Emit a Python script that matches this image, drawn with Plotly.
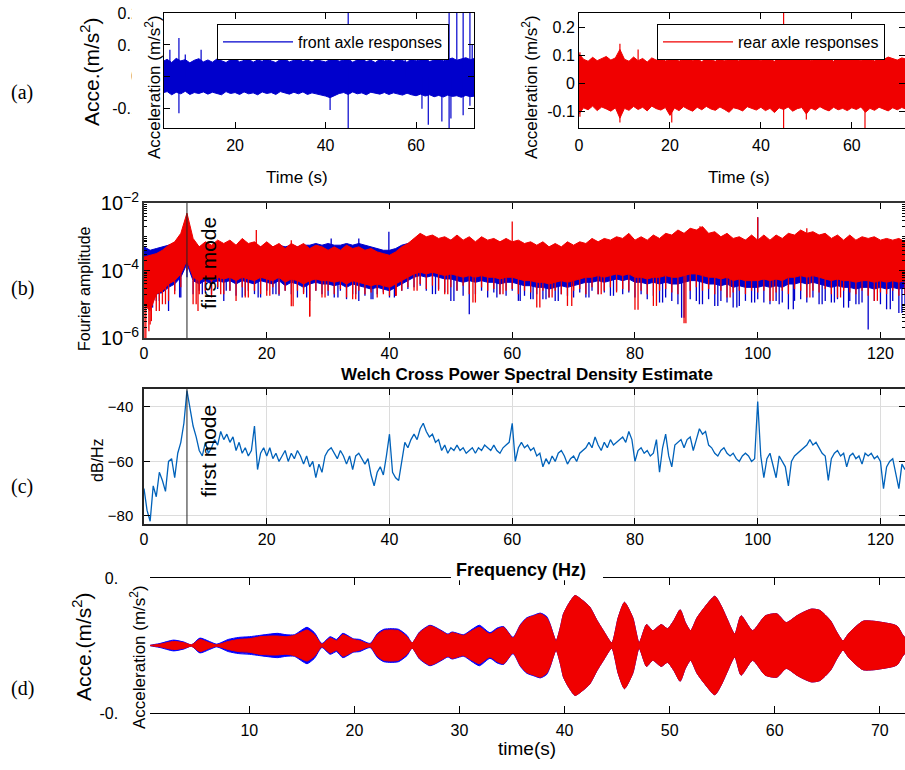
import numpy as np
import plotly.graph_objects as go

W, H = 905, 770


def px(xp):
    """Horizontal pixel position -> paper fraction."""
    return xp / W


def py(yp):
    """Vertical pixel position (from top) -> paper fraction."""
    return 1 - yp / H


BLUE = "#0000CC"
RED = "#F00000"
PSD_BLUE = "#0062BA"

# ---------------- (a) axle acceleration records ----------------
# Band edges of the dense record (1 s steps) and isolated peaks, m/s^2
front_t = list(range(4, 74))
front_upper = [
    0.048, 0.055, 0.045, 0.058, 0.050, 0.054, 0.044, 0.052, 0.057, 0.047,
    0.053, 0.046, 0.056, 0.050, 0.045, 0.054, 0.058, 0.047, 0.052, 0.056,
    0.046, 0.053, 0.049, 0.057, 0.050, 0.045, 0.054, 0.056, 0.047, 0.051,
    0.057, 0.048, 0.053, 0.046, 0.055, 0.050, 0.047, 0.054, 0.058, 0.049,
    0.052, 0.056, 0.046, 0.053, 0.057, 0.048, 0.052, 0.045, 0.055, 0.050,
    0.054, 0.047, 0.056, 0.051, 0.046, 0.057, 0.050, 0.054, 0.058, 0.048,
    0.053, 0.057, 0.050, 0.055, 0.059, 0.052, 0.056, 0.060, 0.054, 0.058,
]
front_lower = [
    -0.050, -0.046, -0.056, -0.048, -0.053, -0.045, -0.055, -0.049, -0.052, -0.047,
    -0.054, -0.048, -0.051, -0.056, -0.046, -0.052, -0.049, -0.055, -0.047, -0.053,
    -0.050, -0.056, -0.047, -0.052, -0.049, -0.055, -0.046, -0.051, -0.054, -0.048,
    -0.053, -0.047, -0.055, -0.050, -0.052, -0.056, -0.060, -0.065, -0.058, -0.052,
    -0.049, -0.055, -0.047, -0.053, -0.050, -0.056, -0.048, -0.052, -0.054, -0.049,
    -0.055, -0.050, -0.053, -0.057, -0.051, -0.056, -0.059, -0.054, -0.060, -0.056,
    -0.062, -0.058, -0.063, -0.057, -0.061, -0.059, -0.064, -0.058, -0.062, -0.060,
]
front_peak_t = [5.6, 7.6, 7.6, 9.0, 12.5, 21.9, 24.8, 41.0, 45.0, 45.0, 57.6,
                61.3, 62.7, 65.7, 67.3, 67.3, 67.7, 69.0, 70.4, 70.4, 71.9, 71.9, 72.4]
front_peak_v = [0.085, 0.122, -0.114, 0.070, 0.085, 0.080, 0.085, -0.104, 0.25, -0.20, 0.085,
                -0.100, -0.150, -0.140, 0.25, -0.20, -0.130, 0.20, 0.20, -0.120, 0.20, -0.090, 0.100]

rear_t = list(range(0, 73))
rear_upper = [
    0.105, 0.085, 0.078, 0.092, 0.080, 0.088, 0.095, 0.082, 0.090, 0.120,
    0.085, 0.078, 0.093, 0.080, 0.088, 0.075, 0.090, 0.082, 0.087, 0.079,
    0.084, 0.092, 0.078, 0.086, 0.098, 0.080, 0.088, 0.076, 0.090, 0.083,
    0.078, 0.088, 0.080, 0.085, 0.092, 0.079, 0.087, 0.093, 0.082, 0.088,
    0.080, 0.090, 0.084, 0.078, 0.092, 0.098, 0.085, 0.090, 0.082, 0.088,
    0.094, 0.080, 0.086, 0.092, 0.082, 0.089, 0.078, 0.091, 0.085, 0.095,
    0.083, 0.088, 0.080, 0.092, 0.086, 0.079, 0.090, 0.084, 0.093, 0.087,
    0.082, 0.090, 0.085,
]
rear_lower = [
    -0.110, -0.088, -0.095, -0.082, -0.098, -0.085, -0.092, -0.100, -0.088, -0.125,
    -0.090, -0.097, -0.083, -0.094, -0.086, -0.099, -0.082, -0.091, -0.096, -0.087,
    -0.115, -0.089, -0.098, -0.084, -0.093, -0.100, -0.086, -0.095, -0.083, -0.092,
    -0.097, -0.085, -0.094, -0.104, -0.088, -0.092, -0.099, -0.084, -0.091, -0.096,
    -0.086, -0.098, -0.090, -0.105, -0.088, -0.094, -0.085, -0.100, -0.091, -0.087,
    -0.110, -0.089, -0.096, -0.084, -0.093, -0.099, -0.086, -0.095, -0.090, -0.098,
    -0.088, -0.094, -0.085, -0.104, -0.090, -0.097, -0.086, -0.093, -0.099, -0.088,
    -0.095, -0.087, -0.093,
]
rear_peak_t = [0.2, 0.2, 9.0, 9.0, 13.0, 20.4, 23.9, 45.0, 45.0, 50.0, 62.9]
rear_peak_v = [0.110, -0.120, 0.140, -0.140, 0.120, -0.140, 0.120, 0.30, -0.20, -0.130, -0.20]

# ---------------- (b) Fourier amplitude (log10), 1 Hz bins ----------------
# top: upper edge of the dense band, core: lower edge of its solid part,
# dip: deepest excursion inside each bin
fft_f = list(range(0, 125))
rear_fft_top = [
    -3.60, -3.55, -3.50, -3.40, -3.25, -3.15, -2.90, -2.30, -3.05, -3.30,
    -3.15, -3.25, -3.10, -3.20, -3.10, -3.25, -3.05, -3.20, -3.15, -3.30,
    -3.15, -3.30, -3.20, -3.35, -3.20, -3.30, -3.20, -3.35, -3.25, -3.30,
    -3.40, -3.30, -3.40, -3.25, -3.35, -3.30, -3.40, -3.35, -3.45, -3.50,
    -3.55, -3.45, -3.30, -3.20, -3.05, -2.90, -3.00, -2.95, -3.05, -3.00,
    -3.10, -2.95, -3.10, -3.00, -3.15, -3.00, -3.10, -3.05, -3.15, -3.05,
    -3.15, -3.10, -3.20, -3.15, -3.25, -3.15, -3.30, -3.20, -3.30, -3.15,
    -3.25, -3.15, -3.20, -3.05, -3.15, -3.05, -3.10, -3.00, -3.05, -2.90,
    -3.10, -3.00, -3.10, -2.95, -3.05, -2.90, -2.95, -2.80, -2.90, -2.75,
    -2.80, -2.70, -2.90, -2.85, -3.00, -2.90, -3.05, -3.00, -3.10, -2.95,
    -3.10, -2.95, -3.10, -2.95, -3.05, -2.90, -2.95, -2.80, -2.90, -2.85,
    -2.95, -2.90, -3.05, -2.95, -3.10, -2.95, -3.10, -3.00, -3.05, -3.00,
    -3.10, -3.05, -3.10, -3.05, -3.15,
]
rear_fft_core = [
    -5.00, -5.20, -4.70, -4.60, -4.40, -4.30, -4.10, -3.70, -4.20, -4.30,
    -4.20, -4.30, -4.20, -4.25, -4.20, -4.30, -4.20, -4.25, -4.30, -4.20,
    -4.25, -4.30, -4.20, -4.35, -4.25, -4.30, -4.40, -4.30, -4.25, -4.30,
    -4.30, -4.35, -4.30, -4.40, -4.30, -4.35, -4.40, -4.45, -4.40, -4.45,
    -4.50, -4.40, -4.30, -4.20, -4.10, -4.05, -4.10, -4.05, -4.10, -4.15,
    -4.10, -4.15, -4.20, -4.15, -4.20, -4.15, -4.20, -4.20, -4.25, -4.20,
    -4.20, -4.25, -4.30, -4.30, -4.35, -4.35, -4.40, -4.35, -4.30, -4.35,
    -4.30, -4.25, -4.20, -4.20, -4.15, -4.20, -4.15, -4.10, -4.15, -4.10,
    -4.20, -4.20, -4.25, -4.20, -4.20, -4.15, -4.20, -4.20, -4.15, -4.10,
    -4.10, -4.15, -4.20, -4.20, -4.25, -4.20, -4.30, -4.25, -4.30, -4.30,
    -4.30, -4.25, -4.30, -4.25, -4.30, -4.20, -4.20, -4.15, -4.20, -4.15,
    -4.20, -4.25, -4.30, -4.25, -4.30, -4.30, -4.35, -4.30, -4.30, -4.35,
    -4.30, -4.35, -4.30, -4.35, -4.30,
]
rear_fft_dip = [
    -6.00, -5.60, -5.20, -5.00, -4.90, -4.70, -4.50, -4.00, -5.00, -4.70,
    -4.60, -4.80, -4.50, -4.70, -4.60, -4.90, -4.50, -4.80, -4.60, -4.70,
    -4.75, -4.50, -4.70, -4.60, -5.06, -4.60, -4.70, -5.36, -4.60, -4.80,
    -4.60, -4.70, -4.55, -4.80, -4.85, -4.60, -4.70, -4.65, -4.80, -4.70,
    -4.75, -4.75, -4.60, -4.50, -4.60, -4.40, -4.55, -4.45, -4.60, -4.70,
    -4.50, -4.60, -4.45, -4.70, -4.95, -4.50, -4.60, -4.55, -4.70, -4.60,
    -4.55, -4.70, -4.60, -4.65, -5.10, -4.60, -4.80, -4.60, -4.70, -5.05,
    -4.60, -4.55, -4.70, -4.50, -4.70, -4.60, -4.50, -4.65, -4.55, -4.60,
    -5.16, -4.60, -4.70, -5.05, -4.60, -4.55, -4.65, -4.70, -5.56, -4.60,
    -4.50, -4.60, -4.55, -4.70, -4.60, -4.80, -4.65, -4.60, -4.70, -4.60,
    -4.65, -4.60, -4.90, -4.65, -4.60, -4.70, -4.55, -4.60, -4.80, -4.60,
    -4.65, -4.55, -4.70, -4.80, -4.60, -4.65, -4.70, -4.60, -4.75, -4.90,
    -4.65, -4.70, -4.60, -4.75, -4.70,
]
front_fft_top = [
    -3.30, -3.40, -3.35, -3.30, -3.25, -3.20, -3.00, -2.50, -3.20, -3.30,
    -3.30, -3.30, -3.30, -3.25, -3.25, -3.30, -3.20, -3.30, -3.25, -3.30,
    -3.25, -3.30, -3.25, -3.30, -3.25, -3.30, -3.25, -3.25, -3.20, -3.25,
    -3.20, -3.25, -3.25, -3.20, -3.25, -3.20, -3.25, -3.30, -3.35, -3.40,
    -3.40, -3.35, -3.25, -3.20, -3.15, -3.00, -3.05, -3.10, -3.10, -3.15,
    -3.10, -3.15, -3.20, -3.15, -3.20, -3.15, -3.20, -3.20, -3.25, -3.20,
    -3.20, -3.25, -3.25, -3.30, -3.30, -3.35, -3.35, -3.40, -3.35, -3.30,
    -3.35, -3.30, -3.25, -3.20, -3.20, -3.20, -3.15, -3.15, -3.10, -3.05,
    -3.15, -3.20, -3.15, -3.10, -3.10, -3.05, -3.00, -2.95, -2.95, -2.90,
    -2.85, -2.85, -2.95, -3.00, -3.05, -3.10, -3.10, -3.15, -3.10, -3.15,
    -3.15, -3.10, -3.15, -3.10, -3.10, -3.05, -3.00, -2.95, -2.95, -3.00,
    -3.00, -3.05, -3.10, -3.10, -3.15, -3.10, -3.15, -3.15, -3.10, -3.15,
    -3.15, -3.20, -3.15, -3.20, -3.20,
]
front_fft_core = [
    -4.80, -5.00, -4.70, -4.65, -4.50, -4.40, -4.20, -3.80, -4.30, -4.40,
    -4.30, -4.40, -4.30, -4.35, -4.30, -4.40, -4.30, -4.35, -4.40, -4.30,
    -4.35, -4.40, -4.30, -4.45, -4.35, -4.40, -4.50, -4.40, -4.35, -4.40,
    -4.40, -4.45, -4.40, -4.50, -4.40, -4.45, -4.50, -4.55, -4.50, -4.55,
    -4.60, -4.50, -4.40, -4.30, -4.20, -4.15, -4.20, -4.15, -4.20, -4.25,
    -4.25, -4.30, -4.35, -4.30, -4.35, -4.30, -4.35, -4.35, -4.40, -4.35,
    -4.35, -4.40, -4.45, -4.45, -4.50, -4.50, -4.55, -4.50, -4.45, -4.50,
    -4.45, -4.40, -4.35, -4.35, -4.30, -4.35, -4.30, -4.25, -4.30, -4.25,
    -4.35, -4.35, -4.40, -4.35, -4.40, -4.35, -4.40, -4.40, -4.35, -4.30,
    -4.30, -4.35, -4.40, -4.40, -4.45, -4.40, -4.50, -4.45, -4.50, -4.50,
    -4.50, -4.45, -4.50, -4.45, -4.50, -4.40, -4.40, -4.35, -4.40, -4.35,
    -4.40, -4.45, -4.50, -4.45, -4.50, -4.50, -4.55, -4.50, -4.50, -4.55,
    -4.50, -4.55, -4.50, -4.55, -4.50,
]
front_fft_dip = [
    -4.90, -5.10, -4.90, -4.70, -5.20, -4.60, -4.80, -4.20, -4.70, -4.60,
    -4.65, -4.70, -4.55, -4.90, -4.60, -4.75, -4.80, -4.60, -4.70, -4.80,
    -4.60, -4.70, -4.75, -4.60, -4.70, -4.80, -4.65, -4.90, -4.60, -4.70,
    -4.75, -4.80, -4.60, -4.85, -4.70, -4.90, -4.75, -4.85, -4.70, -4.65,
    -4.80, -4.75, -4.60, -4.55, -4.50, -4.45, -4.60, -4.70, -4.55, -4.65,
    -4.90, -4.60, -4.75, -5.30, -4.70, -4.60, -4.80, -4.65, -4.70, -4.75,
    -4.60, -4.90, -4.75, -4.85, -4.70, -4.85, -4.80, -4.90, -4.70, -4.75,
    -4.80, -4.65, -4.80, -4.60, -4.70, -4.65, -4.75, -4.60, -4.70, -4.65,
    -4.80, -4.70, -4.85, -4.75, -4.95, -4.80, -4.90, -5.00, -5.40, -4.85,
    -4.90, -5.00, -4.85, -5.05, -4.90, -4.95, -5.10, -5.05, -4.90, -4.95,
    -4.85, -4.95, -5.00, -4.90, -4.95, -5.15, -4.90, -4.85, -4.95, -4.80,
    -5.00, -4.90, -4.95, -4.85, -5.10, -4.90, -5.00, -4.95, -5.75, -4.90,
    -5.00, -5.15, -4.90, -5.26, -5.00,
]
# isolated lines between bins (Hz, log10 amplitude)
front_fft_peak_f = [1.4, 2.5, 5.8, 9.5, 13.4, 16.5, 18.6, 21.5, 26.5, 31.6, 34.5,
                    37.3, 40.8, 47.5, 50.5, 57.5, 61.3, 63.4, 65.5, 67.5, 72.5,
                    76.5, 84.5, 87.6, 90.5, 93.5, 96.6, 99.5, 103.5, 105.8, 110.5,
                    112.5, 114.8, 116.5, 121.6, 123.5,
                    30.5, 35.0, 39.9, 100.0]
front_fft_peak_log = [-5.10, -4.90, -4.80, -4.70, -4.60, -4.75, -4.80, -4.70, -4.80,
                      -4.80, -4.70, -4.85, -4.80, -4.70, -4.90, -4.80, -4.90, -4.85,
                      -4.85, -4.90, -4.80, -4.75, -4.95, -5.40, -5.00, -5.05, -5.10,
                      -4.95, -5.00, -5.15, -5.00, -4.95, -5.10, -5.00, -5.15, -5.26,
                      -3.05, -3.05, -2.85, -2.42]
rear_fft_peak_f = [0.3, 0.8, 1.2, 2.5, 3.5, 8.5, 8.8, 12.5, 16.5, 20.5, 24.3, 27.0, 29.5,
                   34.5, 41.1, 44.5, 49.5, 53.6, 58.5, 64.5, 66.5, 69.7, 74.5, 80.5, 83.5,
                   88.3, 95.5, 102.5, 108.5, 113.5, 119.5,
                   18.3, 24.0, 60.0, 90.6, 100.0, 108.0]
rear_fft_peak_log = [-6.00, -5.80, -5.50, -5.20, -5.00, -5.00, -5.20, -4.70, -4.80, -4.75,
                     -5.06, -5.36, -4.80, -4.85, -4.75, -4.60, -4.70, -4.95, -4.70, -5.10,
                     -4.80, -5.05, -4.70, -5.16, -5.05, -5.56, -4.80, -4.90, -4.80, -4.80,
                     -4.90,
                     -2.80, -3.10, -2.55, -2.69, -2.42, -2.75]
first_mode_hz = 7.0

# ---------------- (c) Welch cross PSD, 0.5 Hz steps, dB/Hz ----------------
cpsd_db = [
    -70, -78, -82, -69, -73, -64, -67, -71, -60, -59,
    -66, -57, -53, -46, -34, -40, -47, -51, -56, -58,
    -53, -57, -55, -52, -54, -49, -52, -50, -53, -51,
    -56, -53, -57, -55, -58, -56, -47, -63, -57, -55,
    -58, -55, -59, -57, -60, -58, -56, -60, -57, -59,
    -56, -58, -61, -58, -62, -60, -66, -61, -64, -58,
    -56, -55, -57, -59, -56, -58, -61, -58, -63, -58,
    -57, -59, -61, -59, -65, -69, -64, -62, -65, -58,
    -50, -64, -66, -67, -60, -53, -55, -52, -50, -52,
    -48, -46, -49, -51, -50, -53, -52, -56, -54, -57,
    -55, -56, -54, -56, -55, -57, -56, -55, -57, -55,
    -56, -54, -55, -56, -54, -56, -57, -55, -54, -53,
    -46, -60, -55, -53, -55, -54, -56, -55, -58, -57,
    -62, -59, -61, -58, -60, -57, -56, -58, -61, -59,
    -58, -60, -57, -56, -55, -53, -55, -51, -54, -56,
    -53, -55, -52, -54, -53, -52, -51, -53, -49, -52,
    -60, -56, -55, -57, -56, -58, -57, -52, -64, -55,
    -50, -58, -62, -54, -53, -52, -55, -52, -51, -56,
    -52, -48, -50, -49, -54, -55, -57, -58, -56, -55,
    -57, -58, -57, -59, -60, -58, -57, -58, -60, -59,
    -38, -58, -66, -59, -57, -62, -66, -58, -60, -62,
    -69, -60, -58, -57, -56, -55, -54, -52, -54, -53,
    -55, -57, -58, -67, -59, -57, -56, -58, -57, -62,
    -58, -57, -59, -58, -61, -57, -58, -57, -59, -58,
    -60, -70, -62, -60, -59, -64, -70, -61, -63,
]
cpsd_f = [i * 0.5 for i in range(len(cpsd_db))]

# ---------------- (d) filtered responses: envelope amplitude, m/s^2 ----------------
env_t = [
    0.55, 1.5, 2.8, 3.8, 4.5, 5.3, 6.2, 6.9, 8.0, 9.0,
    10.0, 11.0, 12.0, 12.7, 13.5, 14.3, 15.0, 15.5, 16.2, 16.9,
    17.7, 18.3, 18.9, 19.9, 20.5, 21.5, 22.2, 22.8, 23.5, 24.2,
    25.0, 25.5, 26.2, 27.2, 28.2, 28.9, 29.3, 30.4, 31.2, 31.9,
    32.9, 33.6, 34.2, 35.1, 35.8, 36.4, 37.1, 37.7, 38.3, 38.6,
    39.2, 39.6, 39.9, 40.4, 41.0, 41.7, 42.4, 43.1, 43.7, 44.5,
    45.1, 45.7, 46.5, 47.1, 47.8, 48.4, 49.2, 49.8, 50.4, 51.0,
    51.5, 52.0, 52.6, 53.2, 54.3, 54.9, 55.4, 56.2, 56.8, 57.9,
    59.1, 60.2, 61.1, 62.1, 62.7, 63.5, 64.3, 65.3, 65.9, 66.5,
    67.0, 67.5, 68.4, 69.4, 70.3, 71.3, 71.7, 72.2, 72.4,
]
rear_env = [
    0.000, 0.002, 0.006, 0.004, 0.001, 0.009, 0.004, 0.001, 0.006, 0.009,
    0.010, 0.013, 0.014, 0.014, 0.013, 0.015, 0.020, 0.023, 0.016, 0.002,
    0.011, 0.007, 0.016, 0.009, 0.007, 0.002, 0.016, 0.022, 0.023, 0.022,
    0.013, 0.004, 0.019, 0.029, 0.022, 0.016, 0.019, 0.015, 0.022, 0.027,
    0.017, 0.024, 0.027, 0.011, 0.030, 0.040, 0.044, 0.047, 0.041, 0.032,
    0.007, 0.027, 0.047, 0.062, 0.074, 0.067, 0.057, 0.037, 0.022, 0.004,
    0.041, 0.064, 0.041, 0.004, 0.031, 0.022, 0.031, 0.025, 0.037, 0.053,
    0.034, 0.022, 0.041, 0.054, 0.073, 0.059, 0.042, 0.017, 0.044, 0.022,
    0.044, 0.047, 0.034, 0.044, 0.049, 0.054, 0.052, 0.037, 0.020, 0.007,
    0.017, 0.025, 0.036, 0.036, 0.034, 0.031, 0.028, 0.015, 0.012,
]
front_env = [
    0.000, 0.003, 0.008, 0.005, 0.001, 0.011, 0.006, 0.002, 0.009, 0.012,
    0.013, 0.015, 0.017, 0.018, 0.016, 0.016, 0.023, 0.027, 0.019, 0.003,
    0.013, 0.009, 0.018, 0.010, 0.009, 0.003, 0.018, 0.024, 0.025, 0.024,
    0.015, 0.004, 0.020, 0.030, 0.023, 0.017, 0.020, 0.016, 0.024, 0.030,
    0.019, 0.026, 0.028, 0.012, 0.031, 0.041, 0.045, 0.048, 0.043, 0.033,
    0.007, 0.027, 0.047, 0.062, 0.074, 0.067, 0.057, 0.037, 0.022, 0.004,
    0.041, 0.064, 0.041, 0.004, 0.031, 0.022, 0.031, 0.025, 0.037, 0.053,
    0.034, 0.022, 0.041, 0.054, 0.073, 0.059, 0.042, 0.017, 0.044, 0.022,
    0.044, 0.047, 0.034, 0.044, 0.049, 0.054, 0.052, 0.037, 0.020, 0.007,
    0.017, 0.025, 0.036, 0.036, 0.034, 0.031, 0.028, 0.015, 0.012,
]


# ---------------- helpers building trace geometry from the data ----------------
def band(xs, hi, lo):
    return list(xs) + list(xs)[::-1], list(hi) + list(lo)[::-1]


def peaks(xs, vs, base=0.0):
    X, Y = [], []
    for x, v in zip(xs, vs):
        X += [x, x, None]
        Y += [base, v, None]
    return X, Y


def log_peaks(xs, vs, f, hi, lo):
    mid = (np.array(hi) + np.array(lo)) / 2
    X, Y = [], []
    for x, v in zip(xs, vs):
        b = float(np.interp(x, f, mid))
        X += [x, x, None]
        Y += [10 ** b, 10 ** v, None]
    return X, Y


def log_comb(f, start, end):
    X, Y = [], []
    for x, a, b in zip(f, start, end):
        X += [x, x, None]
        Y += [10 ** a, 10 ** b, None]
    return X, Y


fig = go.Figure()

# (a) front axle
bx, by = band(front_t, front_upper, front_lower)
fig.add_trace(go.Scatter(x=bx, y=by, mode="lines", fill="toself", fillcolor=BLUE,
                         line=dict(color=BLUE, width=1), xaxis="x", yaxis="y",
                         showlegend=False, hoverinfo="skip"))
sx, sy = peaks(front_peak_t, front_peak_v)
fig.add_trace(go.Scatter(x=sx, y=sy, mode="lines", line=dict(color=BLUE, width=1.2),
                         xaxis="x", yaxis="y", name="front axle responses",
                         legend="legend", showlegend=True))

# (a) rear axle
bx, by = band(rear_t, rear_upper, rear_lower)
fig.add_trace(go.Scatter(x=bx, y=by, mode="lines", fill="toself", fillcolor=RED,
                         line=dict(color=RED, width=1), xaxis="x2", yaxis="y2",
                         showlegend=False, hoverinfo="skip"))
sx, sy = peaks(rear_peak_t, rear_peak_v)
fig.add_trace(go.Scatter(x=sx, y=sy, mode="lines", line=dict(color=RED, width=1.2),
                         xaxis="x2", yaxis="y2", name="rear axle responses",
                         legend="legend2", showlegend=True))

# (b) Fourier amplitude spectra: blue drawn first, red on top
for top, core, dip, pk_f, pk_v, col in [
    (front_fft_top, front_fft_core, front_fft_dip, front_fft_peak_f, front_fft_peak_log, BLUE),
    (rear_fft_top, rear_fft_core, rear_fft_dip, rear_fft_peak_f, rear_fft_peak_log, RED),
]:
    cx, cy = log_comb(fft_f, core, dip)
    fig.add_trace(go.Scatter(x=cx, y=cy, mode="lines", line=dict(color=col, width=1.3),
                             xaxis="x3", yaxis="y3", showlegend=False, hoverinfo="skip"))
    sx, sy = log_peaks(pk_f, pk_v, fft_f, top, core)
    fig.add_trace(go.Scatter(x=sx, y=sy, mode="lines", line=dict(color=col, width=1.3),
                             xaxis="x3", yaxis="y3", showlegend=False, hoverinfo="skip"))
    bx, by = band(fft_f, top, core)
    fig.add_trace(go.Scatter(x=bx, y=[10 ** v for v in by], mode="lines", fill="toself",
                             fillcolor=col, line=dict(color=col, width=1),
                             xaxis="x3", yaxis="y3", showlegend=False, hoverinfo="skip"))

# (c) cross power spectral density
fig.add_trace(go.Scatter(x=cpsd_f, y=cpsd_db, mode="lines",
                         line=dict(color=PSD_BLUE, width=1.3),
                         xaxis="x4", yaxis="y4", showlegend=False))

# (d) filtered responses (envelopes of the narrow-band oscillation)
for env, col in [(front_env, "#0000FF"), (rear_env, RED)]:
    bx, by = band(env_t, env, [-v for v in env])
    fig.add_trace(go.Scatter(x=bx, y=by, mode="lines", fill="toself", fillcolor=col,
                             line=dict(color=col, width=1, shape="spline", smoothing=0.6),
                             xaxis="x5", yaxis="y5", showlegend=False, hoverinfo="skip"))

FONT = "Liberation Sans, Arial, sans-serif"
common = dict(showline=True, linecolor="black", linewidth=1, mirror="ticks",
              ticks="inside", ticklen=6, tickcolor="black", zeroline=False,
              showgrid=False, automargin=False,
              tickfont=dict(family=FONT, size=16, color="black"))

acc_ticks = dict(tickmode="array", tickvals=[-0.1, 0, 0.1, 0.2],
                 ticktext=["-0.1", "0", "0.1", "0.2"])

fig.update_layout(
    width=W, height=H, margin=dict(l=0, r=0, t=0, b=0, autoexpand=False),
    paper_bgcolor="white", plot_bgcolor="white",
    font=dict(family=FONT, color="black"),
    xaxis=dict(common, domain=[px(164), px(474)], range=[4.3, 72.8],
               tickmode="array", tickvals=[20, 40, 60], anchor="y",
               ticklabelstandoff=3),
    yaxis=dict(common, domain=[py(128), py(13)], range=[-0.16, 0.2], anchor="x",
               ticklabelstandoff=20, **acc_ticks),
    xaxis2=dict(common, domain=[px(579), 1.0], range=[0, 71.7],
                tickmode="array", tickvals=[0, 20, 40, 60], anchor="y2",
                ticklabelstandoff=3),
    yaxis2=dict(common, domain=[py(128), py(13)], range=[-0.16, 0.25], anchor="x2",
                **acc_ticks),
    xaxis3=dict(common, domain=[px(144), 1.0], range=[0, 124], tickmode="linear",
                tick0=0, dtick=20, anchor="y3", linewidth=1.5, linecolor="#333333"),
    yaxis3=dict(common, domain=[py(338), py(203)], type="log", range=[-6, -2],
                dtick=2, tick0=0, exponentformat="power", anchor="x3",
                linewidth=1.5, linecolor="#333333",
                minor=dict(ticks="inside", ticklen=3, dtick="D1", tickcolor="black")),
    xaxis4=dict(common, domain=[px(144), 1.0], range=[0, 124], tickmode="linear",
                tick0=0, dtick=20, anchor="y4", showgrid=True, gridcolor="#dcdcdc",
                linewidth=1.5, linecolor="#262626"),
    yaxis4=dict(common, domain=[py(524), py(389)], range=[-83, -33.4],
                tickmode="array", tickvals=[-80, -60, -40], anchor="x4",
                showgrid=True, gridcolor="#dcdcdc", linewidth=1.5, linecolor="#262626",
                ticklabelstandoff=6,
                tickfont=dict(family=FONT, size=15, color="black")),
    xaxis5=dict(common, domain=[px(150), 1.0], range=[0.55, 72.4], tickmode="array",
                tickvals=[10, 20, 30, 40, 50, 60, 70], anchor="y5", ticklen=7,
                ticklabelstandoff=3),
    yaxis5=dict(common, domain=[py(713), py(578)], range=[-0.1, 0.1], tickmode="array",
                tickvals=[-0.1, 0.1], ticktext=["-0.1", "0.1"], showline=False,
                ticks="", anchor="x5", ticklabelstandoff=22),
    legend=dict(x=px(217), y=py(24), xanchor="left", yanchor="top",
                bordercolor="black", borderwidth=1, bgcolor="white",
                font=dict(family=FONT, size=16, color="black"), itemwidth=70),
    legend2=dict(x=px(657), y=py(24), xanchor="left", yanchor="top",
                 bordercolor="black", borderwidth=1, bgcolor="white",
                 font=dict(family=FONT, size=16, color="black"), itemwidth=70),
)

shapes = [
    # first-mode markers
    dict(type="line", xref="x3", yref="y3 domain", x0=first_mode_hz, x1=first_mode_hz,
         y0=0, y1=1, line=dict(color="#222222", width=1)),
    dict(type="line", xref="x4", yref="y4 domain", x0=first_mode_hz, x1=first_mode_hz,
         y0=0, y1=1, line=dict(color="#222222", width=1)),
    # label backdrops
    dict(type="rect", xref="paper", yref="paper", x0=px(131.7), x1=px(162),
         y0=py(124), y1=py(0), fillcolor="white", line=dict(width=0), layer="above"),
    dict(type="rect", xref="paper", yref="paper", x0=px(118.3), x1=px(148.5),
         y0=py(722), y1=py(568), fillcolor="white", line=dict(width=0), layer="above"),
    dict(type="rect", xref="paper", yref="paper", x0=px(451), x1=px(603),
         y0=py(580.3), y1=py(558), fillcolor="white", line=dict(width=0), layer="above"),
]
fig.update_layout(shapes=shapes)

SERIF = "Liberation Serif, Times New Roman, serif"


def note(text, x, y, size, angle=0, bold=False, family=FONT):
    t = f"<b>{text}</b>" if bold else text
    return dict(text=t, x=px(x), y=py(y), xref="paper", yref="paper",
                xanchor="center", yanchor="middle", showarrow=False, textangle=angle,
                font=dict(family=family, size=size, color="black"))


acc = "Acceleration (m/s<sup>2</sup>)"
annotations = [
    note("(a)", 22, 92, 20, family=SERIF),
    note("(b)", 22, 288, 20, family=SERIF),
    note("(c)", 22, 486, 20, family=SERIF),
    note("(d)", 22, 688, 20, family=SERIF),
    note("Acce.(m/s<sup>2</sup>)", 90, 72, 21, angle=-90),
    note(acc, 153, 87, 17, angle=-90),
    note(acc, 530, 87, 17, angle=-90),
    note("Time (s)", 297, 177, 17),
    note("Time (s)", 739, 177, 17),
    note("Fourier amplitude", 85, 289, 16, angle=-90),
    note("first mode", 208, 263, 21, angle=-90),
    note("Welch Cross Power Spectral Density Estimate", 527, 374, 17, bold=True),
    note("dB/Hz", 97, 460, 16, angle=-90),
    note("first mode", 208, 451, 21, angle=-90),
    note("Frequency (Hz)", 521, 570, 18, bold=True),
    note("Acce.(m/s<sup>2</sup>)", 82, 647, 21, angle=-90),
    note(acc, 138, 657, 17, angle=-90),
    note("time(s)", 527, 748, 19),
]
fig.update_layout(annotations=annotations)

fig.write_html("out.html")
